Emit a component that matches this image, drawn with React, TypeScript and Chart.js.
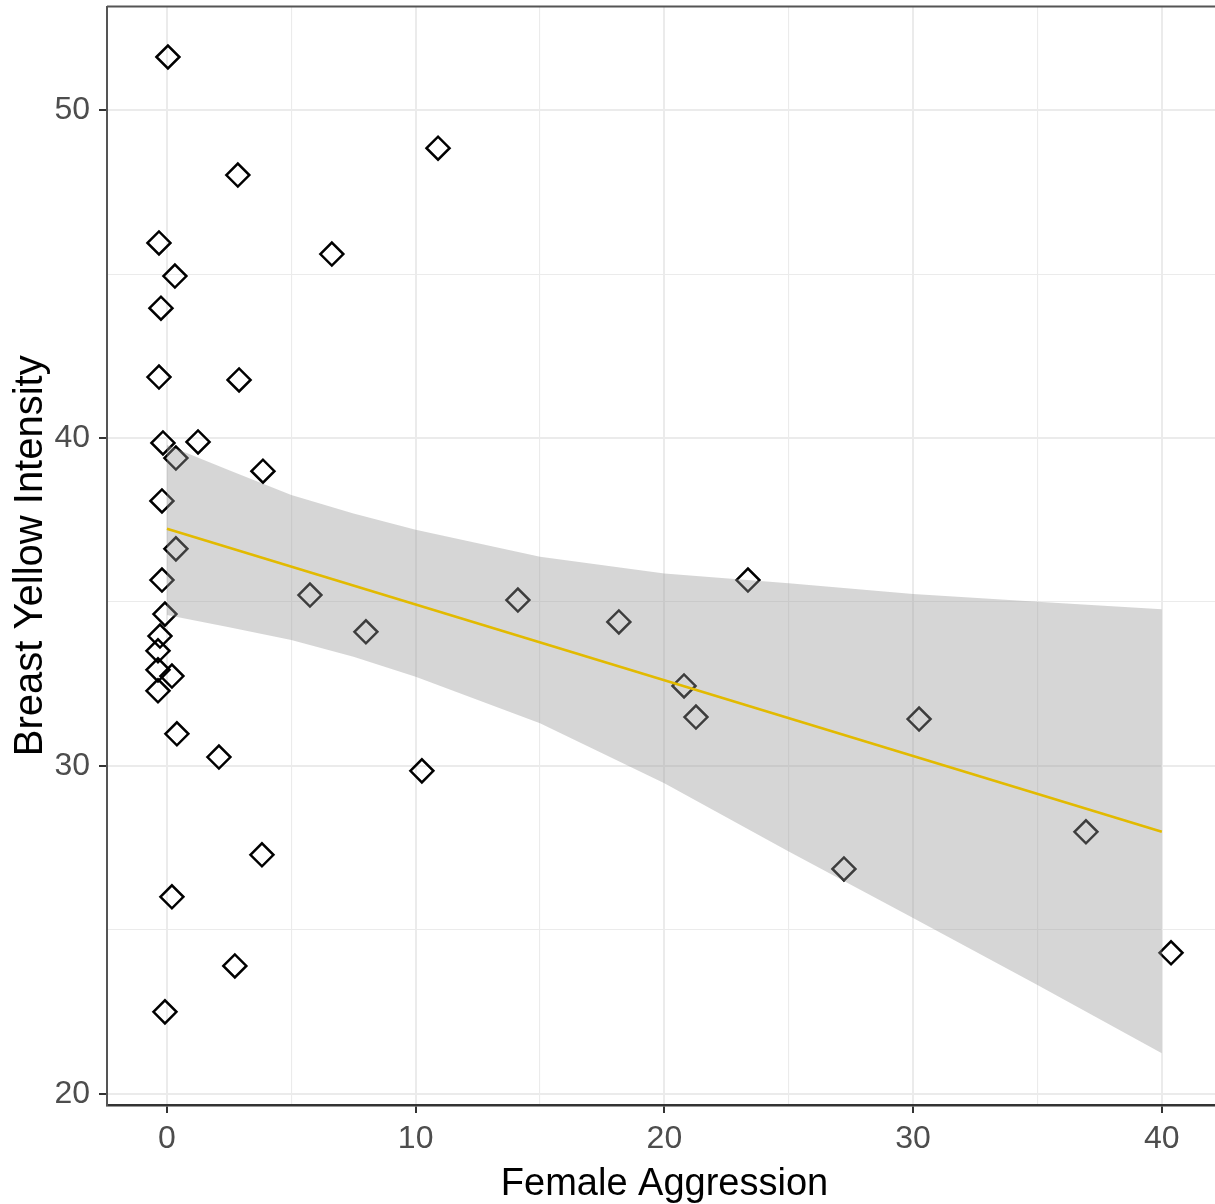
import React, { useEffect, useRef } from 'react';
import { Chart, registerables } from 'chart.js';

Chart.register(...registerables);

// Jittered observations (Female Aggression vs Breast Yellow Intensity)
const pointX = [0.04, 2.85, 10.9, -0.32, 0.32, 6.63, -0.24, -0.32, 2.9, -0.16, 1.25, 0.36, 3.86, -0.2, 0.36, -0.2, -0.08, -0.28, -0.36, -0.36, 0.2, -0.36, 0.4, 2.09, 5.75, 8.0, 10.25, 3.82, 0.2, 2.73, -0.08, 14.11, 18.17, 20.79, 21.27, 23.36, 30.24, 27.22, 36.95, 40.37];
const pointY = [51.62, 48.02, 48.84, 45.95, 44.94, 45.61, 43.96, 41.86, 41.77, 39.85, 39.88, 39.39, 38.99, 38.08, 36.62, 35.67, 34.63, 33.96, 33.51, 32.93, 32.74, 32.29, 30.98, 30.27, 35.21, 34.09, 29.85, 27.29, 26.01, 23.9, 22.5, 35.06, 34.39, 32.44, 31.49, 35.67, 31.43, 26.86, 27.99, 24.3];

// Confidence band of the linear fit
const bandX = [0, 2.5, 5, 7.5, 10, 15, 20, 25, 30, 35, 40];
const bandUpper = [39.79, 39.02, 38.26, 37.7, 37.2, 36.38, 35.87, 35.57, 35.24, 35.01, 34.78];
const bandLower = [34.6, 34.23, 33.84, 33.33, 32.72, 31.3, 29.47, 27.39, 25.36, 23.32, 21.24];

// Fitted line
const fitX = [0, 40];
const fitY = [37.23, 27.99];

// Axis ticks
const xTickValues = [0, 10, 20, 30, 40];
const yTickValues = [20, 30, 40, 50];
const xRange = [-2.41, 42.42];
const yRange = [19.66, 53.16];

const FONT = '"Liberation Sans", Arial, Helvetica, sans-serif';

const isMajor = (v: number, list: number[]) => list.some((t) => Math.abs(t - v) < 1e-6);
const keepStep5 = (scale: any) => {
  scale.ticks = scale.ticks.filter((t: any) => Math.abs(t.value / 5 - Math.round(t.value / 5)) < 1e-6);
};
const noPadding = (s: any) => {
  s.paddingTop = 0;
  s.paddingBottom = 0;
  s.paddingLeft = 0;
  s.paddingRight = 0;
};

export default function App() {
  const ref = useRef<HTMLCanvasElement>(null);

  useEffect(() => {
    document.body.style.margin = '0';
    const topBorder = {
      id: 'topBorder',
      beforeDatasetsDraw(chart: any) {
        const { ctx, chartArea } = chart;
        ctx.save();
        ctx.strokeStyle = '#555555';
        ctx.lineWidth = 2;
        ctx.beginPath();
        ctx.moveTo(chartArea.left, chartArea.top);
        ctx.lineTo(chartArea.right, chartArea.top);
        ctx.stroke();
        ctx.restore();
      },
    };

    const tickFont = { family: FONT, size: 32 };

    const chart = new Chart(ref.current as HTMLCanvasElement, {
      type: 'line',
      data: {
        datasets: [
          {
            data: pointX.map((x, i) => ({ x, y: pointY[i] })),
            showLine: false,
            pointStyle: 'rectRot',
            pointRadius: 11.5,
            pointBorderWidth: 2.5,
            pointBorderColor: '#000000',
            pointBackgroundColor: 'rgba(0,0,0,0)',
            order: 4,
          },
          {
            data: bandX.map((x, i) => ({ x, y: bandUpper[i] })),
            borderWidth: 0,
            borderColor: 'rgba(0,0,0,0)',
            pointRadius: 0,
            fill: false,
            tension: 0,
            order: 3,
          },
          {
            data: bandX.map((x, i) => ({ x, y: bandLower[i] })),
            borderWidth: 0,
            borderColor: 'rgba(0,0,0,0)',
            backgroundColor: 'rgba(153,153,153,0.4)',
            pointRadius: 0,
            fill: '-1',
            tension: 0,
            order: 2,
          },
          {
            data: fitX.map((x, i) => ({ x, y: fitY[i] })),
            borderColor: '#E2BA00',
            borderWidth: 2.6,
            pointRadius: 0,
            fill: false,
            tension: 0,
            order: 1,
          },
        ] as any,
      },
      options: {
        animation: false,
        responsive: false,
        events: [],
        layout: { autoPadding: false, padding: { top: 6.5, left: 0, right: 0, bottom: 0 } },
        plugins: { legend: { display: false }, tooltip: { enabled: false } },
        scales: {
          x: {
            type: 'linear',
            min: xRange[0],
            max: xRange[1],
            afterBuildTicks: keepStep5,
            afterFit: (s: any) => { s.height = 99; noPadding(s); },
            ticks: {
              stepSize: 5,
              includeBounds: false,
              autoSkip: false,
              maxRotation: 0,
              padding: 7,
              color: '#4d4d4d',
              font: tickFont,
              callback: (v: any) => (isMajor(Number(v), xTickValues) ? String(v) : ''),
            },
            grid: {
              color: '#ebebeb',
              lineWidth: (c: any) => (c.tick && isMajor(c.tick.value, xTickValues) ? 2 : 1.1),
              tickLength: 8,
              tickWidth: 2,
              tickColor: (c: any) => (c.tick && isMajor(c.tick.value, xTickValues) ? '#333333' : 'rgba(0,0,0,0)'),
            },
            border: { display: true, color: '#333333', width: 2.5 },
            title: {
              display: true,
              text: 'Female Aggression',
              color: '#000000',
              font: { family: FONT, size: 38, lineHeight: 1 },
              padding: { top: 0, bottom: 0.5 },
            },
          },
          y: {
            type: 'linear',
            min: yRange[0],
            max: yRange[1],
            afterBuildTicks: keepStep5,
            afterFit: (s: any) => { s.width = 107; noPadding(s); },
            ticks: {
              stepSize: 5,
              includeBounds: false,
              autoSkip: false,
              padding: 9,
              color: '#4d4d4d',
              font: tickFont,
              callback: (v: any) => (isMajor(Number(v), yTickValues) ? String(v) : ''),
            },
            grid: {
              color: '#ebebeb',
              lineWidth: (c: any) => (c.tick && isMajor(c.tick.value, yTickValues) ? 2 : 1.1),
              tickLength: 8,
              tickWidth: 2,
              tickColor: (c: any) => (c.tick && isMajor(c.tick.value, yTickValues) ? '#333333' : 'rgba(0,0,0,0)'),
            },
            border: { display: true, color: '#555555', width: 2 },
            title: {
              display: true,
              text: 'Breast Yellow Intensity',
              color: '#000000',
              font: { family: FONT, size: 40, lineHeight: 1 },
              padding: { top: 11, bottom: 0 },
            },
          },
        },
      } as any,
      plugins: [topBorder],
    });
    return () => chart.destroy();
  }, []);

  return (
    <div style={{ width: 1215, height: 1204, overflow: 'hidden', position: 'relative' }}>
      <canvas ref={ref} width={1222} height={1204} style={{ display: 'block' }} />
    </div>
  );
}
